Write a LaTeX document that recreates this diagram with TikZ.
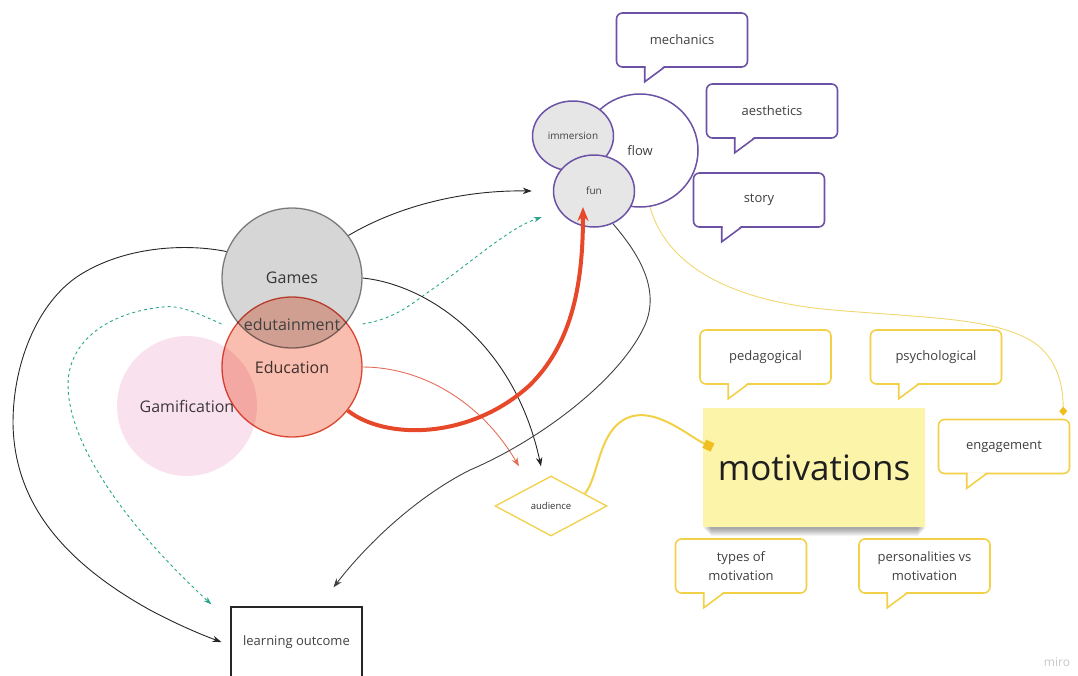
\documentclass[tikz,border=0pt]{standalone}
\usepackage{fontspec}
\setmainfont{Open Sans}
\usetikzlibrary{shapes.geometric,arrows.meta,backgrounds}

\definecolor{bubblepurple}{RGB}{108,82,164}
\definecolor{noteyellow}{RGB}{242,208,72}
\definecolor{stickyfill}{RGB}{252,244,168}
\definecolor{markyellow}{RGB}{240,190,30}
\definecolor{gamesfill}{RGB}{214,214,214}
\definecolor{gamesline}{RGB}{135,135,135}
\definecolor{edufill}{RGB}{249,190,175}
\definecolor{eduline}{RGB}{222,82,60}
\definecolor{gamifpink}{RGB}{249,226,238}
\definecolor{thickred}{RGB}{232,72,42}
\definecolor{thinred}{RGB}{226,110,90}
\definecolor{tealdash}{RGB}{40,165,140}
\definecolor{textgray}{RGB}{64,64,64}
\definecolor{linkyellow}{RGB}{240,215,110}

\newcommand{\fsz}[1]{\fontsize{#1}{#1}\selectfont}
\newcommand{\bubbletail}[2]{%
  \fill[white] ([xshift=29.8pt,yshift=2pt]#1.south west) -- ([xshift=29.8pt,yshift=-13pt]#1.south west) -- ([xshift=48.5pt,yshift=2pt]#1.south west) -- cycle;
  \draw[#2,line width=1.6pt] ([xshift=29pt,yshift=0.8pt]#1.south west) -- ([xshift=29pt,yshift=-14pt]#1.south west) -- ([xshift=49pt,yshift=0.8pt]#1.south west);}

\tikzset{
  venn/.style={circle,minimum size=140pt,inner sep=0pt,line width=1.3pt,text=textgray,font=\fsz{16}},
  talk/.style={draw=#1,line width=1.6pt,rounded corners=6pt,fill=white,minimum width=131pt,minimum height=54pt,align=center,text=textgray,font=\fsz{13}},
  blob/.style={ellipse,draw=bubblepurple,line width=1.5pt,inner sep=0pt,text=textgray},
  link/.style={draw=black!85,line width=0.9pt,->},
  tealarrow/.style={draw=tealdash,line width=0.9pt,dash pattern=on 3pt off 3pt,-{Stealth[length=8pt,width=5.5pt]}},
  yellowlink/.style={draw=linkyellow,line width=0.9pt}
}

\begin{document}
\begin{tikzpicture}[x=1pt,y=-1pt,>={Stealth[length=9pt,width=6.5pt]},line width=1pt,font=\fsz{13}]
  \useasboundingbox (0,0) rectangle (1078,675);

  % venn circles
  \begin{scope}[blend mode=multiply]
    \node[venn,draw=gamesline,fill=gamesfill] (games) at (292,278) {Games};
    \node[venn,fill=gamifpink] (gamif) at (187,406) {Gamification};
    \node[venn,draw=eduline,fill=edufill] (education) at (292,367) {Education};
  \end{scope}
  \node[minimum width=140pt,inner sep=0pt,text=textgray,font=\fsz{16}] (edu) at (292,324) {edutainment};

  % flow group
  \node[blob,fill=white,minimum width=116pt,minimum height=113pt,font=\fsz{13}] (flow) at (640,150.5) {flow};
  \node[blob,fill=gamesfill!60,minimum width=81pt,minimum height=70pt,font=\fsz{10}] (immersion) at (573,136) {immersion};
  \node[blob,fill=gamesfill!60,minimum width=81pt,minimum height=72pt,font=\fsz{10}] (fun) at (594,191) {fun};

  % purple bubbles
  \node[talk=bubblepurple] (mechanics) at (682,40) {mechanics};
  \bubbletail{mechanics}{bubblepurple}
  \node[talk=bubblepurple] (aesthetics) at (772,111) {aesthetics};
  \bubbletail{aesthetics}{bubblepurple}
  \node[talk=bubblepurple] (story) at (759,200) {story};
  \bubbletail{story}{bubblepurple}

  % motivations
  \node[fill=stickyfill,minimum width=222pt,minimum height=119pt,font=\fsz{35},text=black!88] (motiv) at (814,467.5) {motivations};
  \begin{scope}[on background layer]
    \foreach \d in {1,...,8}
      \fill[black,opacity=0.05] ([xshift=\d pt,yshift=8pt]motiv.south west) rectangle ([xshift=-\d pt,yshift=-\d pt]motiv.south east);
  \end{scope}

  % yellow bubbles
  \node[talk=noteyellow] (pedagogical) at (765.5,357) {pedagogical};
  \bubbletail{pedagogical}{noteyellow}
  \node[talk=noteyellow] (psychological) at (936,357) {psychological};
  \bubbletail{psychological}{noteyellow}
  \node[talk=noteyellow] (engagement) at (1004,446.5) {engagement};
  \bubbletail{engagement}{noteyellow}
  \node[talk=noteyellow,font=\fontsize{13}{19}\selectfont] (types) at (741,566) {types of\\motivation};
  \bubbletail{types}{noteyellow}
  \node[talk=noteyellow,font=\fontsize{13}{19}\selectfont] (personalities) at (924.5,566) {personalities vs\\motivation};
  \bubbletail{personalities}{noteyellow}

  \node[diamond,draw=noteyellow,line width=1.3pt,fill=white,minimum width=112pt,minimum height=60pt,inner sep=0pt,text=black!80,font=\fsz{9.5}] (audience) at (551,506) {audience};
  \node[draw=black!85,line width=1.3pt,minimum width=131pt,minimum height=70pt,text=textgray,font=\fsz{13}] (learning) at (296.5,642) {learning outcome};
  \node[text=black!22,font=\fsz{12}] (miro) at (1057,662) {miro};

  % free ends
  \coordinate (funblack) at ([xshift=-21pt]fun.west);
  \coordinate (funteal) at ([xshift=-11pt,yshift=-26pt]fun.west);
  \coordinate (funred) at (583,207);
  \coordinate (audblack) at ([xshift=-10pt,yshift=9pt]audience.north);
  \coordinate (audred) at ([xshift=-32pt,yshift=9pt]audience.north);
  \coordinate (loblack) at ([xshift=-9pt]learning.west);
  \coordinate (loteal) at ([xshift=-19pt,yshift=2pt]learning.north west);
  \coordinate (lofun) at ([xshift=37pt,yshift=19pt]learning.north);

  % connectors
  \draw[link] (games.37) .. controls (400,205) and (465,190) .. (funblack);
  \draw[link] (games.158) .. controls (190,244) and (130,245) .. (83,273) .. controls (40,298) and (13,360) .. (13,423) .. controls (14,500) and (60,560) .. (150,610) .. controls (180,626) and (205,636) .. (loblack);
  \draw[tealarrow] (edu.west) .. controls (195,312) and (180,305) .. (163,307) .. controls (110,312) and (68,340) .. (68,385) .. controls (68,440) and (120,520) .. (loteal);
  \draw[tealarrow] (edu.east) .. controls (400,318) and (415,300) .. (440,284) .. controls (480,255) and (510,228) .. (funteal);
  \draw[link] (games.east) .. controls (430,285) and (515,345) .. (audblack);
  \draw[draw=thinred,line width=0.9pt,-{Stealth[length=9pt,width=6.5pt]}] (education.east) .. controls (420,367) and (480,400) .. (audred);
  \draw[draw=thickred,line width=4pt,-{Stealth[length=14pt,width=11pt]}] (education.-38) .. controls (385,440) and (470,440) .. (530,385) .. controls (570,345) and (583,290) .. (funred);
  \draw[link,draw=black!75] (fun.-60) .. controls (640,255) and (660,290) .. (645,325) .. controls (620,380) and (540,440) .. (470,470) .. controls (420,495) and (370,540) .. (lofun);
  \draw[yellowlink,-{Diamond[length=9pt,width=8pt,color=markyellow]}] (flow.-80) .. controls (665,260) and (720,300) .. (833,310) .. controls (930,318) and (990,318) .. (1030,340) .. controls (1060,358) and (1063,390) .. ([xshift=-7pt,yshift=3pt]engagement.north east);
  \draw[draw=noteyellow,line width=2pt,-{Square[length=9pt,width=9pt,color=markyellow]}] (audience.20) .. controls (600,475) and (598,425) .. (633,416) .. controls (660,410) and (690,437) .. ([xshift=10pt,yshift=20pt]motiv.west);
\end{tikzpicture}
\end{document}
